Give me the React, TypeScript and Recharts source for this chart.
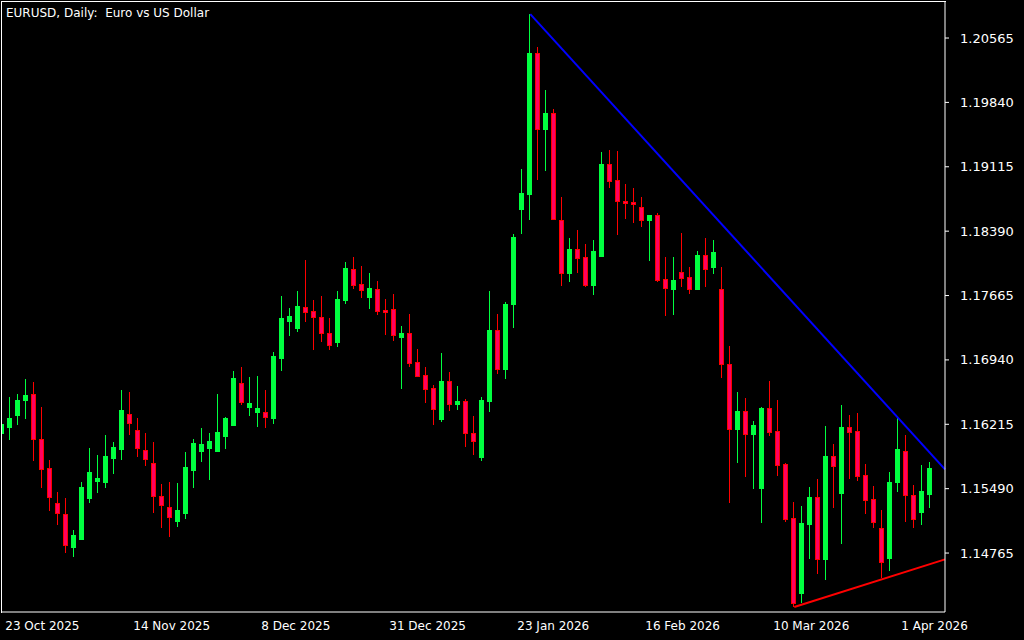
import { Bar, ComposedChart, ReferenceLine, XAxis, YAxis } from 'recharts';

// EURUSD daily, 23 Oct 2025 .. 7 Apr 2026 (117 bars)
const opens = [
  1.16116, 1.16184, 1.1632, 1.16488, 1.16556, 1.16049, 1.15723, 1.15328, 1.15204, 1.14833,
  1.14923, 1.15385, 1.15576, 1.15564, 1.15836, 1.15936, 1.16331, 1.1615, 1.15925, 1.15779,
  1.15407, 1.15283, 1.15126, 1.15215, 1.157, 1.15914, 1.15948, 1.15914, 1.16082, 1.16207,
  1.16679, 1.16409, 1.16353, 1.16353, 1.16286, 1.16962, 1.17378, 1.173, 1.17535, 1.17491,
  1.17423, 1.17243, 1.17141, 1.17614, 1.17963, 1.17795, 1.17648, 1.17739, 1.17502, 1.17513,
  1.17198, 1.17243, 1.16916, 1.1677, 1.16623, 1.16274, 1.16702, 1.16443, 1.16477, 1.16116,
  1.15847, 1.16477, 1.17277, 1.16837, 1.17569, 1.1864, 1.18808, 1.20396, 1.1954, 1.1972,
  1.18515, 1.17918, 1.18189, 1.18099, 1.17784, 1.1811, 1.19146, 1.18966, 1.1873, 1.18718,
  1.18662, 1.18515, 1.18572, 1.17851, 1.17739, 1.17929, 1.17874, 1.17739, 1.18122, 1.17986,
  1.17739, 1.16894, 1.16161, 1.16365, 1.16105, 1.15498, 1.16398, 1.16139, 1.15768, 1.15159,
  1.14314, 1.15092, 1.15396, 1.14697, 1.15858, 1.15441, 1.16184, 1.16139, 1.15644, 1.15373,
  1.15047, 1.14709, 1.15564, 1.15914, 1.15418, 1.15227, 1.1543,
];
const highs = [
  1.16263, 1.16522, 1.16556, 1.16724, 1.1669, 1.16409, 1.15813, 1.15452, 1.15385, 1.15024,
  1.15564, 1.15948, 1.15869, 1.16094, 1.16015, 1.16601, 1.16578, 1.16286, 1.16116, 1.16015,
  1.15542, 1.15564, 1.15553, 1.15902, 1.16049, 1.16173, 1.16116, 1.16556, 1.16297, 1.16815,
  1.1686, 1.16747, 1.16758, 1.16601, 1.17028, 1.17659, 1.17525, 1.17716, 1.18065, 1.17614,
  1.17659, 1.17412, 1.17716, 1.18042, 1.18099, 1.17997, 1.17918, 1.17829, 1.17625, 1.17682,
  1.17321, 1.17457, 1.17062, 1.1686, 1.16657, 1.17017, 1.16803, 1.16645, 1.16499, 1.16308,
  1.16522, 1.17716, 1.17457, 1.17592, 1.18358, 1.19089, 1.20835, 1.20464, 1.19979, 1.19765,
  1.18775, 1.18313, 1.18403, 1.18245, 1.1829, 1.19281, 1.19304, 1.19293, 1.18921, 1.18876,
  1.18775, 1.18572, 1.18594, 1.18099, 1.18099, 1.18369, 1.17986, 1.18167, 1.18313, 1.1829,
  1.17986, 1.17096, 1.16578, 1.16511, 1.16252, 1.16409, 1.16702, 1.16488, 1.15779, 1.15339,
  1.15294, 1.15509, 1.15598, 1.16195, 1.15993, 1.16432, 1.1632, 1.16342, 1.15768, 1.1552,
  1.15249, 1.15677, 1.16286, 1.16094, 1.15531, 1.15756, 1.1579,
];
const lows = [
  1.16082, 1.16038, 1.16207, 1.16274, 1.15802, 1.15498, 1.15238, 1.15081, 1.14765, 1.1472,
  1.14912, 1.15328, 1.15441, 1.15498, 1.15655, 1.15813, 1.16094, 1.15847, 1.15745, 1.15215,
  1.15047, 1.14945, 1.15058, 1.15148, 1.15498, 1.1579, 1.15587, 1.15902, 1.15936, 1.16195,
  1.16432, 1.16308, 1.16184, 1.16173, 1.16218, 1.16815, 1.17209, 1.17254, 1.17366, 1.17051,
  1.17141, 1.17051, 1.17085, 1.17569, 1.17739, 1.17637, 1.17513, 1.17446, 1.17221, 1.17153,
  1.16612, 1.1686, 1.16747, 1.16454, 1.16207, 1.1624, 1.16365, 1.16376, 1.15959, 1.15869,
  1.15802, 1.16353, 1.16781, 1.16724, 1.173, 1.18358, 1.18515, 1.18966, 1.19067, 1.18515,
  1.17772, 1.17817, 1.17918, 1.17761, 1.1767, 1.18099, 1.18876, 1.18347, 1.18526, 1.18481,
  1.18436, 1.18054, 1.17817, 1.17434, 1.17446, 1.17761, 1.17682, 1.17727, 1.17761, 1.17907,
  1.16736, 1.15328, 1.15779, 1.15621, 1.15486, 1.15103, 1.16082, 1.15632, 1.15114, 1.14157,
  1.14202, 1.14697, 1.14529, 1.14461, 1.15272, 1.14867, 1.15598, 1.15576, 1.15204, 1.15047,
  1.14484, 1.14562, 1.15452, 1.15114, 1.15047, 1.15081, 1.15272,
];
const closes = [
  1.16218, 1.16286, 1.16488, 1.16545, 1.16049, 1.15711, 1.15396, 1.15215, 1.14856, 1.14968,
  1.15509, 1.15677, 1.1561, 1.15858, 1.15959, 1.16376, 1.16229, 1.15948, 1.15824, 1.15407,
  1.15306, 1.1517, 1.15249, 1.15734, 1.16004, 1.15993, 1.16027, 1.16127, 1.16286, 1.16736,
  1.16466, 1.16454, 1.16398, 1.16297, 1.16984, 1.17412, 1.17434, 1.17546, 1.17479, 1.17423,
  1.17243, 1.17108, 1.17625, 1.17975, 1.17784, 1.17727, 1.1775, 1.17491, 1.17479, 1.17221,
  1.17243, 1.16905, 1.16758, 1.16612, 1.16387, 1.16702, 1.16443, 1.16477, 1.16116, 1.16027,
  1.16488, 1.17277, 1.16837, 1.17569, 1.18324, 1.18819, 1.20396, 1.1954, 1.1972, 1.18526,
  1.17918, 1.18189, 1.18088, 1.17784, 1.18167, 1.19146, 1.18955, 1.1873, 1.18707, 1.18696,
  1.18515, 1.18572, 1.1784, 1.1775, 1.1784, 1.17863, 1.17739, 1.18122, 1.17963, 1.18155,
  1.16894, 1.16161, 1.16365, 1.16105, 1.16207, 1.16398, 1.16127, 1.15756, 1.15148, 1.14202,
  1.15103, 1.15396, 1.14697, 1.15858, 1.15745, 1.16184, 1.16127, 1.15632, 1.15362, 1.15114,
  1.14663, 1.15564, 1.15936, 1.15418, 1.15148, 1.15464, 1.15723,
];

const dateTickIndex = [0, 16, 32, 48, 64, 80, 96, 112];
const dateTickLabels = [
  '23 Oct 2025', '14 Nov 2025', '8 Dec 2025', '31 Dec 2025',
  '23 Jan 2026', '16 Feb 2026', '10 Mar 2026', '1 Apr 2026',
];
const priceTicks = [1.14765, 1.1549, 1.16215, 1.1694, 1.17665, 1.1839, 1.19115, 1.1984, 1.20565];

// trend lines drawn on the chart: [bar index, price]
const resistanceLine = [
  { x: 66, y: 1.20835 },
  { x: 117.84, y: 1.15708 },
];
const supportLine = [
  { x: 99, y: 1.14157 },
  { x: 117.84, y: 1.14694 },
];

const BULL = '#00ff40';
const BEAR_LINE = '#ff0000';
const BEAR_FILL = '#ff0060';
const FONT = '"DejaVu Sans", sans-serif';

const data = opens.map((open, i) => ({
  i,
  open,
  high: highs[i],
  low: lows[i],
  close: closes[i],
  range: [lows[i], highs[i]],
}));

function Candle(props: any) {
  const { x, y, width, height, payload } = props;
  if (!payload) return null;
  const { open, close, high, low } = payload;
  const up = close >= open;
  const h = Math.abs(height);
  const top = height >= 0 ? y : y + height;
  const k = high - low > 0 ? h / (high - low) : 0;
  const py = (p: number) => top + (high - p) * k;
  const cx = Math.floor(x + width / 2);
  const bTop = Math.round(py(Math.max(open, close)));
  const bBot = Math.round(py(Math.min(open, close)));
  return (
    <g>
      <line
        x1={cx + 0.5}
        x2={cx + 0.5}
        y1={Math.round(top)}
        y2={Math.round(top + h)}
        stroke={up ? BULL : BEAR_LINE}
        strokeWidth={1}
      />
      <rect
        x={cx - 2 + 0.5}
        y={bTop + 0.5}
        width={4}
        height={Math.max(bBot - bTop, 1)}
        fill={up ? BULL : BEAR_FILL}
        stroke={up ? BULL : BEAR_LINE}
        strokeWidth={1}
      />
    </g>
  );
}

function PriceTick(props: any) {
  const { x, y, payload } = props;
  return (
    <text x={x + 9} y={y} fill="#fff" fontSize={13} fontFamily={FONT} dominantBaseline="central">
      {payload.value.toFixed(5)}
    </text>
  );
}

function DateTick(props: any) {
  const { x, payload } = props;
  const k = dateTickIndex.indexOf(payload.value);
  return (
    <text x={x + 3} y={626} fill="#fff" fontSize={12} fontFamily={FONT} dominantBaseline="central">
      {dateTickLabels[k]}
    </text>
  );
}

export default function App() {
  return (
    <div style={{ position: 'fixed', left: 0, top: 0, width: 1024, height: 640, background: '#000', overflow: 'hidden' }}>
      <ComposedChart width={1024} height={640} data={data} margin={{ top: 1, right: 0, bottom: 0, left: 1 }}>
        <XAxis
          dataKey="i"
          type="number"
          domain={[-0.16, 117.84]}
          allowDataOverflow
          ticks={dateTickIndex}
          interval={0}
          tick={<DateTick />}
          tickLine={false}
          axisLine={{ stroke: '#fff' }}
          height={28}
        />
        <YAxis
          orientation="right"
          domain={[1.14101, 1.20982]}
          allowDataOverflow
          ticks={priceTicks}
          interval={0}
          tick={<PriceTick />}
          tickLine={{ stroke: '#fff' }}
          tickSize={4}
          axisLine={{ stroke: '#fff' }}
          width={79}
        />
        <Bar dataKey="range" barSize={5} shape={<Candle />} isAnimationActive={false} />
        <ReferenceLine segment={resistanceLine} stroke="#0000ff" strokeWidth={2} ifOverflow="visible" />
        <ReferenceLine segment={supportLine} stroke="#ff0000" strokeWidth={2} ifOverflow="visible" />
      </ComposedChart>
      <div
        style={{
          position: 'absolute', left: 1, top: 1, width: 945, height: 612,
          border: '1px solid #fff', borderRight: 'none', borderBottom: 'none',
          boxSizing: 'border-box', pointerEvents: 'none',
        }}
      />
      <div
        style={{
          position: 'absolute', left: 6, top: 5, color: '#fff', fontFamily: FONT,
          fontSize: 12, lineHeight: '16px', whiteSpace: 'pre',
        }}
      >
        {'EURUSD, Daily:  Euro vs US Dollar'}
      </div>
    </div>
  );
}
